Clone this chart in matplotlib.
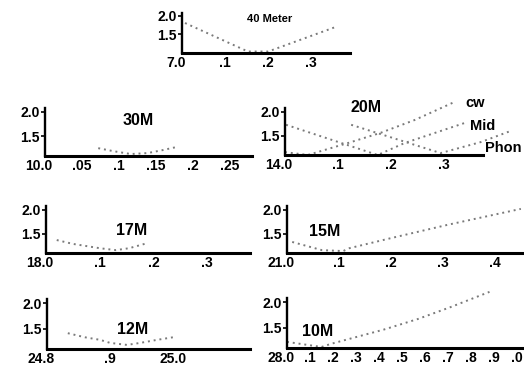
import matplotlib
matplotlib.use('Agg')
import matplotlib.pyplot as plt
from matplotlib.transforms import ScaledTranslation

# SWR readings per band (MHz, SWR)
freq_40 = [7.007, 7.153, 7.2, 7.356]
swr_40 = [1.81, 1.04, 1.04, 1.70]

freq_30 = [10.072, 10.092, 10.116, 10.139, 10.159, 10.177]
swr_30 = [1.26, 1.20, 1.14, 1.16, 1.22, 1.28]

freq_20_cw = [14.0, 14.043, 14.119, 14.18, 14.245, 14.317]
swr_20_cw = [1.16, 1.10, 1.35, 1.56, 1.83, 2.19]
freq_20_mid = [14.002, 14.175, 14.226, 14.34]
swr_20_mid = [1.73, 1.10, 1.35, 1.77]
freq_20_phon = [14.125, 14.294, 14.37, 14.426]
swr_20_phon = [1.73, 1.14, 1.37, 1.60]

freq_17 = [18.02, 18.05, 18.10, 18.13, 18.155, 18.19]
swr_17 = [1.37, 1.29, 1.20, 1.16, 1.20, 1.31]

freq_15 = [21.01, 21.067, 21.108, 21.12, 21.2, 21.31, 21.45]
swr_15 = [1.33, 1.16, 1.14, 1.20, 1.41, 1.69, 2.02]

freq_12 = [24.833, 24.86, 24.884, 24.9, 24.927, 24.948, 24.975, 25.0]
swr_12 = [1.41, 1.33, 1.28, 1.22, 1.18, 1.22, 1.28, 1.33]

freq_10 = [28.0, 28.15, 28.19, 28.42, 28.57, 28.71, 28.88]
swr_10 = [1.22, 1.12, 1.18, 1.46, 1.67, 1.90, 2.2]

ticks_40 = [7.0, 7.1, 7.2, 7.3]
labels_40 = ['7.0', '.1', '.2', '.3']
ticks_30 = [10.0, 10.05, 10.1, 10.15, 10.2, 10.25]
labels_30 = ['10.0', '.05', '.1', '.15', '.2', '.25']
ticks_20 = [14.0, 14.1, 14.2, 14.3]
labels_20 = ['14.0', '.1', '.2', '.3']
ticks_17 = [18.0, 18.1, 18.2, 18.3]
labels_17 = ['18.0', '.1', '.2', '.3']
ticks_15 = [21.0, 21.1, 21.2, 21.3, 21.4]
labels_15 = ['21.0', '.1', '.2', '.3', '.4']
ticks_12 = [24.8, 24.9, 25.0]
labels_12 = ['24.8', '.9', '25.0']
ticks_10 = [28.0, 28.1, 28.2, 28.3, 28.4, 28.5, 28.6, 28.7, 28.8, 28.9, 29.0]
labels_10 = ['28.0', '.1', '.2', '.3', '.4', '.5', '.6', '.7', '.8', '.9', '.0']

W, H = 524, 369
DOT = dict(color='#7a7a7a', linewidth=1.4, linestyle=(0, (1, 2)), clip_on=False)

plt.rcParams['font.family'] = ['Liberation Sans', 'DejaVu Sans']
plt.rcParams['font.weight'] = 'bold'

fig = plt.figure(figsize=(W / 100, H / 100), dpi=100)
fig.patch.set_facecolor('white')


def add_panel(l, t, r, b, xlim, ylim, ticks, labels):
    # pixel box -> figure fraction
    ax = fig.add_axes([l / W, 1 - b / H, (r - l) / W, (b - t) / H])
    ax.set_xlim(xlim)
    ax.set_ylim(ylim)
    ax.patch.set_alpha(0)
    for s in ['top', 'right']:
        ax.spines[s].set_visible(False)
    ax.spines['left'].set_linewidth(1.7)
    ax.spines['bottom'].set_linewidth(2.2)
    ax.set_xticks(ticks)
    ax.set_xticklabels(labels)
    ax.set_yticks([1.5, 2.0])
    ax.set_yticklabels(['1.5', '2.0'])
    ax.tick_params(axis='x', length=0, pad=2, labelsize=10)
    ax.tick_params(axis='y', length=3, width=1.2, pad=1, labelsize=10)
    first = ax.get_xticklabels()[0]
    first.set_transform(first.get_transform() + ScaledTranslation(-0.06, 0, fig.dpi_scale_trans))
    return ax


ax40 = add_panel(182, 13, 350, 53, (7.0, 7.39), (1.0, 2.08), ticks_40, labels_40)
ax40.plot(freq_40, swr_40, **DOT)
ax40.text(0.52, 0.85, '40 Meter', transform=ax40.transAxes, ha='center', va='center', fontsize=8)

ax30 = add_panel(45, 108, 252, 156, (10.0, 10.28), (1.1, 2.08), ticks_30, labels_30)
ax30.plot(freq_30, swr_30, **DOT)
ax30.text(0.45, 0.73, '30M', transform=ax30.transAxes, ha='center', va='center', fontsize=11.5)

ax20 = add_panel(285, 108, 483, 155, (14.0, 14.374), (1.1, 2.08), ticks_20, labels_20)
ax20.plot(freq_20_cw, swr_20_cw, **DOT)
ax20.plot(freq_20_mid, swr_20_mid, **DOT)
ax20.plot(freq_20_phon, swr_20_phon, **DOT)
ax20.text(0.41, 1.0, '20M', transform=ax20.transAxes, ha='center', va='center', fontsize=11.5)
ax20.text(0.91, 1.1, 'cw', transform=ax20.transAxes, ha='left', va='center', fontsize=10.5)
ax20.text(0.935, 0.62, 'Mid', transform=ax20.transAxes, ha='left', va='center', fontsize=10.5)
ax20.text(1.01, 0.15, 'Phon', transform=ax20.transAxes, ha='left', va='center', fontsize=10.5)

ax17 = add_panel(46, 206, 250, 253, (18.0, 18.38), (1.1, 2.08), ticks_17, labels_17)
ax17.plot(freq_17, swr_17, **DOT)
ax17.text(0.42, 0.47, '17M', transform=ax17.transAxes, ha='center', va='center', fontsize=11.5)

ax15 = add_panel(287, 206, 524, 253, (21.0, 21.456), (1.1, 2.08), ticks_15, labels_15)
ax15.plot(freq_15, swr_15, **DOT)
ax15.text(0.16, 0.45, '15M', transform=ax15.transAxes, ha='center', va='center', fontsize=11.5)

ax12 = add_panel(47, 299, 250, 349, (24.8, 25.122), (1.1, 2.08), ticks_12, labels_12)
ax12.plot(freq_12, swr_12, **DOT)
ax12.text(0.42, 0.40, '12M', transform=ax12.transAxes, ha='center', va='center', fontsize=11.5)

ax10 = add_panel(287, 298, 524, 348, (28.0, 29.03), (1.1, 2.08), ticks_10, labels_10)
ax10.plot(freq_10, swr_10, **DOT)
ax10.text(0.13, 0.32, '10M', transform=ax10.transAxes, ha='center', va='center', fontsize=11.5)

fig.savefig('out.png', dpi=100, facecolor='white')
